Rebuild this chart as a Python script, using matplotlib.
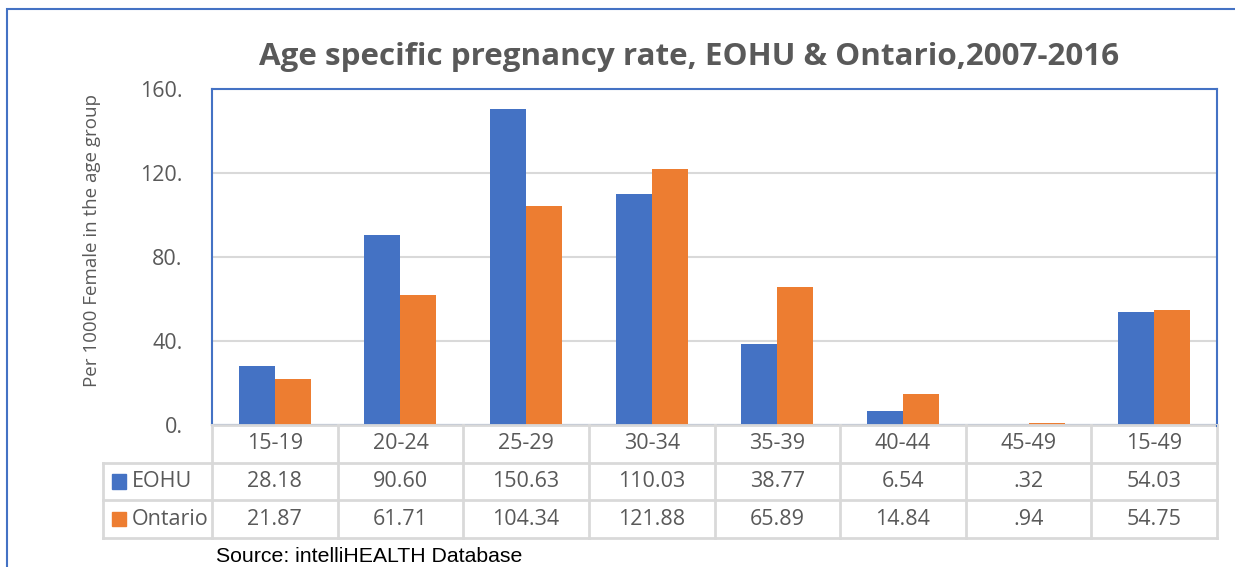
import matplotlib.pyplot as plt
from matplotlib.patches import Rectangle

# data
age_groups = ['15-19', '20-24', '25-29', '30-34', '35-39', '40-44', '45-49', '15-49']
eohu = [28.18, 90.60, 150.63, 110.03, 38.77, 6.54, 0.32, 54.03]
ontario = [21.87, 61.71, 104.34, 121.88, 65.89, 14.84, 0.94, 54.75]
eohu_txt = ['28.18', '90.60', '150.63', '110.03', '38.77', '6.54', '.32', '54.03']
ontario_txt = ['21.87', '61.71', '104.34', '121.88', '65.89', '14.84', '.94', '54.75']
series = ['EOHU', 'Ontario']
yticks = [0, 40, 80, 120, 160]

BLUE = '#4472C4'
ORANGE = '#ED7D31'
GREY = '#595959'
LINE = '#D9D9D9'
FONT = 'Open Sans'

W, H = 1235, 567
fig = plt.figure(figsize=(W / 100, H / 100), dpi=100)


def px_box(x0, y0, x1, y1):
    # pixel box (top-left origin) -> figure fraction rect
    return [x0 / W, 1 - y1 / H, (x1 - x0) / W, (y1 - y0) / H]


# outer border
fig.patches.append(Rectangle((7 / W, -0.1), 1.2, 1 - 9 / H + 0.1, transform=fig.transFigure,
                             fill=False, edgecolor=BLUE, lw=1.5))

ax = fig.add_axes(px_box(212, 89, 1217, 425))
n = len(age_groups)
xs = [i + 0.5 for i in range(n)]
bw = 0.287
ax.bar([x - bw / 2 for x in xs], eohu, bw, color=BLUE, zorder=3)
ax.bar([x + bw / 2 for x in xs], ontario, bw, color=ORANGE, zorder=3)
ax.set_xlim(0, n)
ax.set_ylim(0, 160)
ax.set_yticks(yticks)
ax.set_yticklabels([f'{t}.' for t in yticks], fontsize=15.5, color=GREY, family=FONT)
ax.tick_params(axis='y', length=0, pad=21)
ax.set_xticks([])
ax.grid(axis='y', color=LINE, lw=1.5, zorder=0)
for s in ax.spines.values():
    s.set_color(BLUE)
    s.set_linewidth(1.5)
ax.set_ylabel('Per 1000 Female in the age group', fontsize=13.5, color=GREY, family=FONT)
ax.yaxis.set_label_coords(-0.110, 0.548)

fig.text((257 + 1122) / 2 / W, 1 - 57 / H, 'Age specific pregnancy rate, EOHU & Ontario,2007-2016',
         ha='center', va='center', fontsize=22.6, fontweight='bold', color=GREY, family=FONT)

# data table below the plot
leg_w = (212 - 103) / ((1217 - 212) / n)
tab = fig.add_axes(px_box(103, 425, 1217, 538))
tab.set_xlim(-leg_w, n)
tab.set_ylim(3, 0)
tab.axis('off')
lk = dict(color=LINE, lw=2, clip_on=False)
tab.plot([0, n], [0, 0], **lk)
for r in [1, 2, 3]:
    tab.plot([-leg_w, n], [r, r], **lk)
tab.plot([-leg_w, -leg_w], [1, 3], **lk)
for c in range(n + 1):
    tab.plot([c, c], [0, 3], **lk)
tab.plot([n, n], [0, 0.02], color=BLUE, lw=1.5)

tk = dict(ha='center', va='center', fontsize=15.5, color=GREY, family=FONT)
for i in range(n):
    tab.text(xs[i], 0.5, age_groups[i], **tk)
    tab.text(xs[i], 1.5, eohu_txt[i], **tk)
    tab.text(xs[i], 2.5, ontario_txt[i], **tk)

for r, (name, col) in enumerate(zip(series, [BLUE, ORANGE])):
    y = 1.5 + r
    tab.add_patch(Rectangle((-leg_w + 0.07, y - 0.19), 0.11, 0.38, color=col, clip_on=False))
    tab.text(-leg_w + 0.23, y, name, ha='left', va='center', fontsize=15.5, color=GREY, family=FONT)

fig.text(216 / W, 1 - 556 / H, 'Source: intelliHEALTH Database', ha='left', va='center',
         fontsize=15.3, color='black', family='Liberation Sans')

fig.savefig('out.png', dpi=100)
